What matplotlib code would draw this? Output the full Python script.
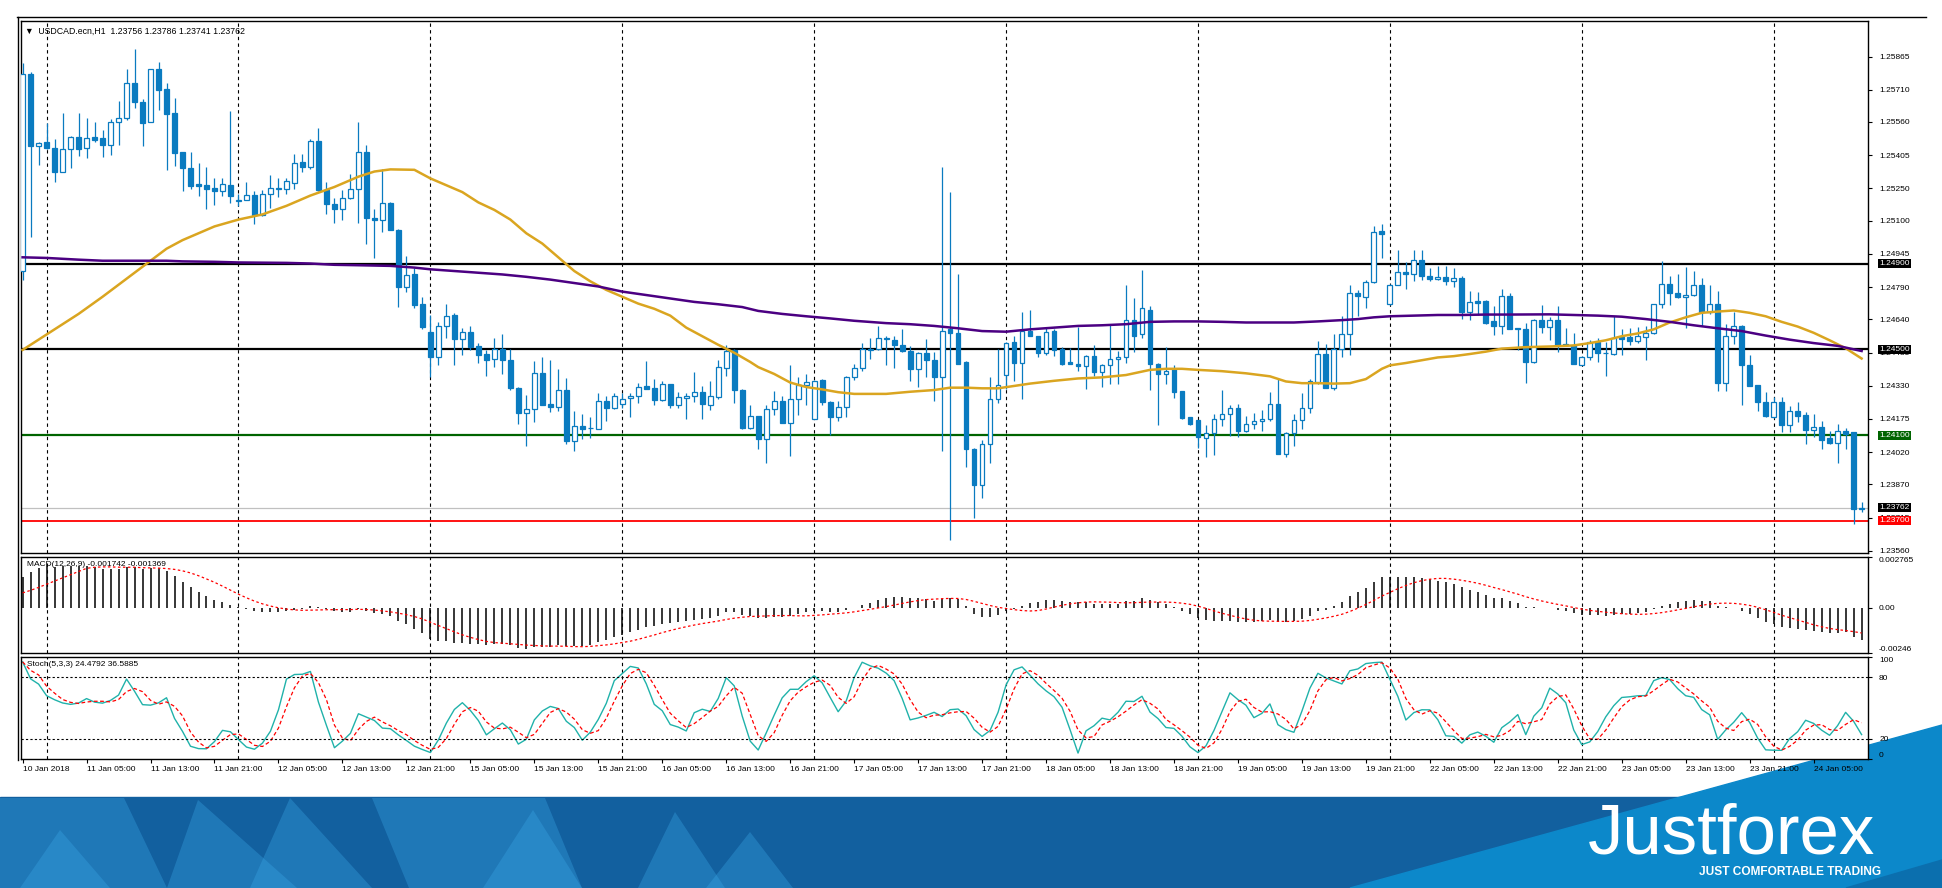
import numpy as np
import matplotlib
matplotlib.use("Agg")
import matplotlib.pyplot as plt
from matplotlib.patches import Polygon, Rectangle

plt.rcParams['font.family'] = ['Liberation Sans', 'DejaVu Sans']

# -----------------------------
# 1) Candle data, USDCAD H1 (10 Jan 21:00 .. 24 Jan 11:00)
# -----------------------------
opens = [
    1.24865, 1.25785, 1.25446, 1.25465, 1.25441, 1.25329, 1.25433, 1.25492, 1.25438, 1.25489,
    1.25484, 1.25454, 1.25558, 1.25577, 1.25743, 1.25652, 1.25558, 1.25809, 1.25713, 1.25601,
    1.25420, 1.25345, 1.25270, 1.25265, 1.25252, 1.25238, 1.25265, 1.25193, 1.25195, 1.25220,
    1.25124, 1.25223, 1.25249, 1.25246, 1.25276, 1.25374, 1.25348, 1.25470, 1.25244, 1.25177,
    1.25156, 1.25204, 1.25246, 1.25420, 1.25113, 1.25105, 1.25182, 1.25057, 1.24790, 1.24849,
    1.24711, 1.24582, 1.24465, 1.24609, 1.24660, 1.24548, 1.24582, 1.24516, 1.24476, 1.24457,
    1.24500, 1.24449, 1.24321, 1.24201, 1.24220, 1.24388, 1.24244, 1.24233, 1.24308, 1.24073,
    1.24140, 1.24131, 1.24129, 1.24257, 1.24225, 1.24244, 1.24273, 1.24284, 1.24329, 1.24321,
    1.24265, 1.24337, 1.24238, 1.24273, 1.24284, 1.24300, 1.24241, 1.24278, 1.24414, 1.24497,
    1.24308, 1.24132, 1.24188, 1.24081, 1.24220, 1.24257, 1.24156, 1.24270, 1.24334, 1.24174,
    1.24358, 1.24252, 1.24182, 1.24233, 1.24372, 1.24414, 1.24497, 1.24500, 1.24553, 1.24545,
    1.24521, 1.24494, 1.24406, 1.24481, 1.24452, 1.24372, 1.24596, 1.24577, 1.24439, 1.24033,
    1.23865, 1.24057, 1.24270, 1.24382, 1.24532, 1.24436, 1.24585, 1.24561, 1.24484, 1.24585,
    1.24500, 1.24439, 1.24433, 1.24422, 1.24470, 1.24393, 1.24428, 1.24457, 1.24462, 1.24636,
    1.24569, 1.24681, 1.24433, 1.24385, 1.24406, 1.24305, 1.24185, 1.24169, 1.24084, 1.24108,
    1.24177, 1.24196, 1.24225, 1.24121, 1.24150, 1.24164, 1.24174, 1.24244, 1.24014, 1.24108,
    1.24169, 1.24228, 1.24348, 1.24476, 1.24318, 1.24502, 1.24572, 1.24764, 1.24745, 1.24814,
    1.25052, 1.24710, 1.24801, 1.24860, 1.24849, 1.24916, 1.24844, 1.24830, 1.24838, 1.24817,
    1.24833, 1.24673, 1.24726, 1.24726, 1.24630, 1.24609, 1.24750, 1.24598, 1.24596, 1.24441,
    1.24638, 1.24604, 1.24638, 1.24526, 1.24521, 1.24428, 1.24462, 1.24532, 1.24481, 1.24478,
    1.24556, 1.24556, 1.24537, 1.24558, 1.24577, 1.24710, 1.24804, 1.24764, 1.24743, 1.24753,
    1.24801, 1.24673, 1.24711, 1.24345, 1.24561, 1.24609, 1.24428, 1.24332, 1.24254, 1.24185,
    1.24254, 1.24148, 1.24212, 1.24193, 1.24124, 1.24137, 1.24084, 1.24065, 1.24118, 1.24113,
    1.23756]
highs = [
    1.25833, 1.25793, 1.25465, 1.25553, 1.25481, 1.25601, 1.25497, 1.25601, 1.25580, 1.25558,
    1.25521, 1.25572, 1.25660, 1.25809, 1.25902, 1.25668, 1.25809, 1.25841, 1.25740, 1.25673,
    1.25420, 1.25420, 1.25369, 1.25348, 1.25297, 1.25300, 1.25609, 1.25222, 1.25281, 1.25238,
    1.25243, 1.25313, 1.25297, 1.25297, 1.25409, 1.25412, 1.25481, 1.25534, 1.25281, 1.25204,
    1.25241, 1.25316, 1.25558, 1.25454, 1.25156, 1.25342, 1.25188, 1.25062, 1.24937, 1.24881,
    1.24745, 1.24660, 1.24628, 1.24713, 1.24670, 1.24601, 1.24609, 1.24529, 1.24497, 1.24553,
    1.24569, 1.24500, 1.24324, 1.24289, 1.24446, 1.24465, 1.24452, 1.24406, 1.24364, 1.24212,
    1.24196, 1.24182, 1.24297, 1.24281, 1.24297, 1.24294, 1.24297, 1.24342, 1.24444, 1.24361,
    1.24353, 1.24340, 1.24300, 1.24297, 1.24393, 1.24329, 1.24353, 1.24452, 1.24521, 1.24500,
    1.24313, 1.24238, 1.24188, 1.24241, 1.24305, 1.24281, 1.24425, 1.24369, 1.24385, 1.24356,
    1.24361, 1.24257, 1.24257, 1.24377, 1.24433, 1.24529, 1.24553, 1.24609, 1.24561, 1.24564,
    1.24593, 1.24516, 1.24489, 1.24548, 1.24489, 1.25348, 1.25233, 1.24852, 1.24444, 1.24041,
    1.24078, 1.24372, 1.24500, 1.24532, 1.24564, 1.24676, 1.24681, 1.24564, 1.24601, 1.24593,
    1.24513, 1.24508, 1.24606, 1.24473, 1.24518, 1.24433, 1.24612, 1.24494, 1.24798, 1.24740,
    1.24870, 1.24702, 1.24436, 1.24510, 1.24428, 1.24305, 1.24185, 1.24172, 1.24148, 1.24196,
    1.24310, 1.24241, 1.24244, 1.24188, 1.24204, 1.24217, 1.24300, 1.24361, 1.24113, 1.24196,
    1.24297, 1.24361, 1.24537, 1.24524, 1.24569, 1.24654, 1.24798, 1.24777, 1.24825, 1.25076,
    1.25084, 1.24804, 1.24964, 1.24908, 1.24964, 1.24964, 1.24881, 1.24889, 1.24889, 1.24881,
    1.24841, 1.24772, 1.24769, 1.24729, 1.24702, 1.24782, 1.24761, 1.24601, 1.24622, 1.24641,
    1.24708, 1.24649, 1.24702, 1.24601, 1.24574, 1.24468, 1.24545, 1.24553, 1.24532, 1.24654,
    1.24596, 1.24601, 1.24606, 1.24609, 1.24713, 1.24913, 1.24844, 1.24849, 1.24886, 1.24865,
    1.24833, 1.24798, 1.24772, 1.24620, 1.24673, 1.24612, 1.24473, 1.24332, 1.24300, 1.24276,
    1.24276, 1.24236, 1.24252, 1.24209, 1.24196, 1.24164, 1.24118, 1.24150, 1.24132, 1.24116,
    1.23786]
lows = [
    1.24825, 1.25022, 1.25361, 1.25433, 1.25278, 1.25329, 1.25345, 1.25401, 1.25393, 1.25465,
    1.25398, 1.25404, 1.25454, 1.25569, 1.25625, 1.25449, 1.25558, 1.25617, 1.25334, 1.25356,
    1.25238, 1.25249, 1.25217, 1.25153, 1.25175, 1.25217, 1.25180, 1.25169, 1.25195, 1.25084,
    1.25121, 1.25161, 1.25209, 1.25225, 1.25249, 1.25329, 1.25342, 1.25236, 1.25129, 1.25089,
    1.25105, 1.25201, 1.25089, 1.24990, 1.24926, 1.25049, 1.25054, 1.24697, 1.24766, 1.24692,
    1.24593, 1.24369, 1.24425, 1.24553, 1.24428, 1.24473, 1.24497, 1.24436, 1.24377, 1.24417,
    1.24385, 1.24308, 1.24153, 1.24049, 1.24161, 1.24241, 1.24209, 1.24212, 1.24057, 1.24025,
    1.24081, 1.24084, 1.24129, 1.24166, 1.24220, 1.24225, 1.24182, 1.24249, 1.24316, 1.24238,
    1.24257, 1.24225, 1.24225, 1.24177, 1.24254, 1.24174, 1.24217, 1.24268, 1.24377, 1.24249,
    1.24129, 1.24129, 1.24033, 1.23969, 1.24193, 1.24156, 1.24001, 1.24193, 1.24241, 1.24174,
    1.24241, 1.24102, 1.24164, 1.24185, 1.24356, 1.24401, 1.24457, 1.24497, 1.24428, 1.24414,
    1.24489, 1.24350, 1.24324, 1.24369, 1.24257, 1.24025, 1.23609, 1.24430, 1.23950, 1.23713,
    1.23806, 1.23969, 1.24249, 1.24313, 1.24350, 1.24270, 1.24561, 1.24462, 1.24473, 1.24468,
    1.24425, 1.24430, 1.24401, 1.24313, 1.24377, 1.24324, 1.24337, 1.24337, 1.24436, 1.24489,
    1.24553, 1.24308, 1.24145, 1.24337, 1.24273, 1.24177, 1.24148, 1.24041, 1.23998, 1.24009,
    1.24140, 1.24097, 1.24089, 1.24113, 1.24129, 1.24121, 1.24164, 1.24014, 1.23998, 1.24049,
    1.24129, 1.24201, 1.24337, 1.24321, 1.24310, 1.24465, 1.24473, 1.24654, 1.24692, 1.24809,
    1.24926, 1.24705, 1.24798, 1.24782, 1.24820, 1.24825, 1.24817, 1.24822, 1.24801, 1.24790,
    1.24641, 1.24636, 1.24660, 1.24617, 1.24566, 1.24569, 1.24596, 1.24497, 1.24345, 1.24436,
    1.24577, 1.24545, 1.24489, 1.24516, 1.24433, 1.24428, 1.24452, 1.24441, 1.24377, 1.24473,
    1.24473, 1.24521, 1.24529, 1.24449, 1.24569, 1.24692, 1.24705, 1.24737, 1.24601, 1.24750,
    1.24609, 1.24665, 1.24305, 1.24305, 1.24526, 1.24241, 1.24329, 1.24212, 1.24185, 1.24180,
    1.24116, 1.24116, 1.24161, 1.24060, 1.24092, 1.24033, 1.24060, 1.23972, 1.24033, 1.23684,
    1.23741]
closes = [
    1.25785, 1.25449, 1.25462, 1.25441, 1.25329, 1.25433, 1.25489, 1.25433, 1.25486, 1.25478,
    1.25454, 1.25558, 1.25577, 1.25743, 1.25654, 1.25556, 1.25809, 1.25710, 1.25598, 1.25417,
    1.25345, 1.25262, 1.25262, 1.25249, 1.25236, 1.25270, 1.25217, 1.25196, 1.25220, 1.25126,
    1.25223, 1.25252, 1.25251, 1.25287, 1.25369, 1.25348, 1.25470, 1.25241, 1.25177, 1.25153,
    1.25204, 1.25246, 1.25420, 1.25110, 1.25105, 1.25182, 1.25054, 1.24790, 1.24846, 1.24708,
    1.24604, 1.24465, 1.24609, 1.24657, 1.24548, 1.24582, 1.24513, 1.24473, 1.24449, 1.24500,
    1.24449, 1.24321, 1.24201, 1.24220, 1.24388, 1.24241, 1.24233, 1.24308, 1.24073, 1.24140,
    1.24129, 1.24134, 1.24257, 1.24225, 1.24284, 1.24268, 1.24284, 1.24324, 1.24316, 1.24265,
    1.24337, 1.24238, 1.24276, 1.24284, 1.24300, 1.24246, 1.24284, 1.24417, 1.24494, 1.24308,
    1.24132, 1.24190, 1.24081, 1.24220, 1.24257, 1.24156, 1.24270, 1.24334, 1.24348, 1.24353,
    1.24252, 1.24182, 1.24230, 1.24372, 1.24414, 1.24500, 1.24502, 1.24553, 1.24548, 1.24521,
    1.24492, 1.24406, 1.24481, 1.24452, 1.24372, 1.24585, 1.24577, 1.24433, 1.24033, 1.23865,
    1.24057, 1.24270, 1.24334, 1.24529, 1.24436, 1.24585, 1.24561, 1.24484, 1.24582, 1.24497,
    1.24433, 1.24433, 1.24422, 1.24470, 1.24393, 1.24428, 1.24457, 1.24462, 1.24638, 1.24564,
    1.24694, 1.24433, 1.24385, 1.24401, 1.24302, 1.24180, 1.24150, 1.24089, 1.24108, 1.24177,
    1.24196, 1.24225, 1.24118, 1.24150, 1.24166, 1.24174, 1.24244, 1.24014, 1.24108, 1.24169,
    1.24228, 1.24353, 1.24476, 1.24321, 1.24502, 1.24572, 1.24761, 1.24750, 1.24814, 1.25046,
    1.25038, 1.24801, 1.24860, 1.24849, 1.24916, 1.24841, 1.24830, 1.24838, 1.24817, 1.24833,
    1.24673, 1.24721, 1.24718, 1.24622, 1.24609, 1.24750, 1.24596, 1.24595, 1.24441, 1.24638,
    1.24604, 1.24638, 1.24521, 1.24518, 1.24433, 1.24462, 1.24532, 1.24484, 1.24483, 1.24553,
    1.24548, 1.24537, 1.24561, 1.24577, 1.24710, 1.24804, 1.24761, 1.24742, 1.24753, 1.24801,
    1.24673, 1.24711, 1.24345, 1.24561, 1.24609, 1.24428, 1.24329, 1.24254, 1.24188, 1.24254,
    1.24148, 1.24212, 1.24190, 1.24124, 1.24137, 1.24076, 1.24065, 1.24118, 1.24105, 1.23753,
    1.23762]

# moving averages (bar index, price)
ma_fast_idx = [0, 3, 7, 10, 12, 14, 16, 18, 20, 24, 27, 30, 33, 36, 39, 42, 44, 46, 49, 51,
               53, 55, 57, 59, 61, 63, 65, 67, 69, 71, 73, 75, 77, 79, 81, 83, 85, 87, 89, 91,
               92, 94, 96, 98, 100, 102, 104, 108, 111, 114, 116, 118, 120, 122, 124, 126, 129,
               132, 135, 138, 141, 143, 145, 147, 150, 153, 156, 158, 160, 162, 164, 166, 168,
               169, 170, 171, 173, 175, 177, 179, 181, 183, 185, 188, 191, 194, 196, 198, 200,
               202, 204, 206, 208, 210, 212, 214, 216, 218, 220, 222, 224, 226, 228, 230]
ma_fast_val = [1.24497, 1.24569, 1.24665, 1.24745, 1.24801, 1.24857, 1.24913, 1.24969, 1.25009,
               1.25073, 1.25105, 1.25129, 1.25169, 1.25217, 1.25257, 1.25305, 1.25329, 1.25339,
               1.25337, 1.25297, 1.25265, 1.25233, 1.25185, 1.25150, 1.25105, 1.25041, 1.24993,
               1.24929, 1.24865, 1.24817, 1.24777, 1.24745, 1.24713, 1.24689, 1.24657, 1.24601,
               1.24561, 1.24521, 1.24484, 1.24441, 1.24417, 1.24385, 1.24345, 1.24324, 1.24313,
               1.24300, 1.24292, 1.24292, 1.24302, 1.24310, 1.24321, 1.24321, 1.24318, 1.24318,
               1.24329, 1.24340, 1.24353, 1.24364, 1.24369, 1.24380, 1.24404, 1.24409, 1.24409,
               1.24404, 1.24398, 1.24388, 1.24374, 1.24350, 1.24342, 1.24342, 1.24340, 1.24342,
               1.24361, 1.24385, 1.24409, 1.24425, 1.24436, 1.24449, 1.24462, 1.24468, 1.24478,
               1.24489, 1.24503, 1.24510, 1.24513, 1.24518, 1.24529, 1.24542, 1.24561, 1.24574,
               1.24593, 1.24625, 1.24649, 1.24670, 1.24676, 1.24681, 1.24670, 1.24654, 1.24628,
               1.24606, 1.24577, 1.24542, 1.24505, 1.24457]
ma_slow_idx = [0, 3, 7, 10, 14, 18, 20, 24, 27, 33, 36, 39, 42, 46, 49, 51, 54, 57, 60, 63,
               66, 69, 72, 75, 78, 81, 84, 87, 90, 92, 95, 98, 101, 104, 108, 111, 114, 117,
               120, 123, 126, 129, 132, 135, 138, 141, 144, 147, 150, 153, 156, 159, 162, 165,
               167, 169, 171, 174, 177, 180, 183, 186, 191, 194, 197, 200, 203, 206, 209, 212,
               215, 218, 221, 224, 227, 230]
ma_slow_val = [1.24929, 1.24926, 1.24918, 1.24913, 1.24913, 1.24913, 1.24910, 1.24908, 1.24905,
               1.24903, 1.24900, 1.24894, 1.24892, 1.24889, 1.24881, 1.24873, 1.24865, 1.24857,
               1.24849, 1.24838, 1.24825, 1.24809, 1.24793, 1.24769, 1.24753, 1.24737, 1.24721,
               1.24710, 1.24697, 1.24679, 1.24665, 1.24654, 1.24644, 1.24633, 1.24622, 1.24617,
               1.24609, 1.24598, 1.24585, 1.24582, 1.24593, 1.24601, 1.24609, 1.24612, 1.24617,
               1.24628, 1.24630, 1.24630, 1.24628, 1.24625, 1.24625, 1.24625, 1.24630, 1.24636,
               1.24641, 1.24649, 1.24654, 1.24657, 1.24660, 1.24660, 1.24662, 1.24662, 1.24663,
               1.24660, 1.24657, 1.24652, 1.24641, 1.24628, 1.24612, 1.24598, 1.24585, 1.24564,
               1.24545, 1.24529, 1.24516, 1.24492]

# MACD starting state read from the left edge of the indicator window
macd_fast_seed = 1.2482
macd_slow_seed = 1.2472
macd_signal_seed = 0.0007

level_lines = [1.24900, 1.24500, 1.24100, 1.23700]
price_ticks = [1.25865, 1.25710, 1.25560, 1.25405, 1.25250, 1.25100, 1.24945, 1.24790,
               1.24640, 1.24485, 1.24330, 1.24175, 1.24020, 1.23870, 1.23715, 1.23560]
day_starts = [3, 27, 51, 75, 99, 123, 147, 171, 195, 219]
time_idx = list(range(0, 225, 8))
time_labels = ['10 Jan 2018', '11 Jan 05:00', '11 Jan 13:00', '11 Jan 21:00', '12 Jan 05:00',
               '12 Jan 13:00', '12 Jan 21:00', '15 Jan 05:00', '15 Jan 13:00', '15 Jan 21:00',
               '16 Jan 05:00', '16 Jan 13:00', '16 Jan 21:00', '17 Jan 05:00', '17 Jan 13:00',
               '17 Jan 21:00', '18 Jan 05:00', '18 Jan 13:00', '18 Jan 21:00', '19 Jan 05:00',
               '19 Jan 13:00', '19 Jan 21:00', '22 Jan 05:00', '22 Jan 13:00', '22 Jan 21:00',
               '23 Jan 05:00', '23 Jan 13:00', '23 Jan 21:00', '24 Jan 05:00']
header_text = '\u25bc  USDCAD.ecn,H1  1.23756 1.23786 1.23741 1.23762'
macd_text = 'MACD(12,26,9) -0.001742 -0.001369'
stoch_text = 'Stoch(5,3,3) 24.4792 36.5885'

# -----------------------------
# 2) Indicators
# -----------------------------
o, h, l, c = map(np.array, (opens, highs, lows, closes))
n = len(c)
x = np.arange(n)

ema_f, ema_s = macd_fast_seed, macd_slow_seed
macd_main = np.zeros(n)
for i in range(n):
    ema_f += 2 / 13 * (c[i] - ema_f)
    ema_s += 2 / 27 * (c[i] - ema_s)
    macd_main[i] = ema_f - ema_s
padded = np.concatenate([np.full(8, macd_signal_seed), macd_main])
macd_sig = np.array([padded[i:i + 9].mean() for i in range(n)])

num = np.zeros(n)
den = np.zeros(n)
for i in range(n):
    j = max(0, i - 4)
    num[i] = c[i] - l[j:i + 1].min()
    den[i] = h[j:i + 1].max() - l[j:i + 1].min()
stoch_k = np.array([num[max(0, i - 2):i + 1].sum() / den[max(0, i - 2):i + 1].sum() * 100
                    for i in range(n)])
stoch_d = np.array([stoch_k[max(0, i - 2):i + 1].mean() for i in range(n)])

# -----------------------------
# 3) Figure layout (pixel based)
# -----------------------------
W, H = 1942, 888
fig = plt.figure(figsize=(W / 100, H / 100), dpi=100)


def rect(x0, y0, x1, y1):
    return [x0 / W, 1 - y1 / H, (x1 - x0) / W, (y1 - y0) / H]


bg = fig.add_axes([0, 0, 1, 1], zorder=0)
bg.set_xlim(0, W)
bg.set_ylim(H, 0)
bg.axis('off')

ax = fig.add_axes(rect(21, 21, 1868, 553), zorder=2)
axm = fig.add_axes(rect(21, 557, 1868, 653), zorder=2, sharex=ax)
axs = fig.add_axes(rect(21, 657, 1868, 759), zorder=2, sharex=ax)

blue = '#0A7BC0'
fs = 6

# --- main chart ---
ax.vlines(x, l, h, color=blue, lw=0.9, zorder=3)
lo_body = np.minimum(o, c)
hgt = np.maximum(np.abs(c - o), 0.00002)
up = c > o
ax.bar(x[up], hgt[up], bottom=lo_body[up], width=0.6, facecolor='white',
       edgecolor=blue, lw=0.9, zorder=4)
ax.bar(x[~up], hgt[~up], bottom=lo_body[~up], width=0.6, facecolor=blue,
       edgecolor=blue, lw=0.9, zorder=4)

ax.plot(ma_fast_idx, ma_fast_val, color='#DAA520', lw=1.8, zorder=5)
ax.plot(ma_slow_idx, ma_slow_val, color='#4B0082', lw=1.8, zorder=5)

ax.axhline(level_lines[0], color='black', lw=1.6, zorder=2.5)
ax.axhline(level_lines[1], color='black', lw=1.6, zorder=2.5)
ax.axhline(level_lines[2], color='#006400', lw=1.6, zorder=2.5)
ax.axhline(level_lines[3], color='red', lw=1.3, zorder=2.5)
ax.axhline(c[-1], color='#C0C0C0', lw=0.9, zorder=2.4)

ax.set_xlim(-0.2, 230.8)
ax.set_ylim(1.23550, 1.26031)
ax.yaxis.tick_right()
ax.set_yticks(price_ticks)
ax.set_yticklabels([f'{v:.5f}' for v in price_ticks], fontsize=fs)
ax.tick_params(axis='y', length=3, width=0.8, pad=5)
ax.tick_params(axis='x', bottom=False, labelbottom=False)

boxes = [(1.24900, 'black'), (1.24500, 'black'), (1.24100, '#006400'),
         (c[-1], 'black'), (1.23700, 'red')]
for val, fc in boxes:
    ax.text(1.0062, val, f'{val:.5f}', transform=ax.get_yaxis_transform(), fontsize=fs,
            color='white', ha='left', va='center', clip_on=False, zorder=10,
            bbox=dict(boxstyle='square,pad=0.12', fc=fc, ec='none'))

ax.text(0.002, 0.99, header_text, transform=ax.transAxes, ha='left', va='top',
        fontsize=6.3, family=['Liberation Sans', 'DejaVu Sans'])

# --- MACD ---
axm.vlines(x, 0, macd_main, color='black', lw=1.1)
axm.plot(x, macd_sig, color='red', lw=0.9, ls=(0, (2, 2)))
axm.set_ylim(-0.00246, 0.002765)
axm.yaxis.tick_right()
axm.set_yticks([0.002765, 0.0, -0.00246])
axm.set_yticklabels(['0.002765', '0.00', '-0.00246'], fontsize=fs)
axm.tick_params(axis='y', length=3, width=0.8, pad=5)
axm.tick_params(axis='x', bottom=False, labelbottom=False)
tl = axm.get_yticklabels()
tl[0].set_va('top')
tl[2].set_va('bottom')
axm.text(0.003, 0.96, macd_text, transform=axm.transAxes, ha='left', va='top', fontsize=fs)

# --- Stochastic ---
axs.plot(x, stoch_k, color='#20B2AA', lw=1.0)
axs.plot(x, stoch_d, color='red', lw=0.9, ls=(0, (3, 2)))
axs.axhline(80, color='black', lw=0.8, ls=(0, (2, 2)))
axs.axhline(20, color='black', lw=0.8, ls=(0, (2, 2)))
axs.set_ylim(0, 100)
axs.yaxis.tick_right()
axs.set_yticks([100, 80, 20, 0])
axs.set_yticklabels(['100', '80', '20', '0'], fontsize=fs)
axs.tick_params(axis='y', length=3, width=0.8, pad=5)
tl = axs.get_yticklabels()
tl[0].set_va('top')
tl[3].set_va('bottom')
axs.text(0.003, 0.96, stoch_text, transform=axs.transAxes, ha='left', va='top', fontsize=fs)
axs.set_xticks(time_idx)
axs.set_xticklabels(time_labels, fontsize=fs, ha='left')
axs.tick_params(axis='x', length=3, width=0.8, pad=2)

for a in (ax, axm, axs):
    for k in day_starts:
        a.axvline(k, color='black', lw=0.8, ls=(0, (3, 3)), zorder=1)
    for s in a.spines.values():
        s.set_linewidth(1.0)

# outer window border
bg.plot([17, 1926], [17.5, 17.5], color='black', lw=1.0)
bg.plot([18, 18], [17, 760], color='black', lw=1.0)

# -----------------------------
# 4) Banner
# -----------------------------
bg.add_patch(Rectangle((0, 797), W, H - 797, color='#12609F', zorder=1))
bg.add_patch(Polygon([(1350, 888), (1942, 725), (1942, 888)], closed=True,
                     color='#0C88CA', zorder=2))
bg.add_patch(Polygon([(1846, 888), (1942, 860), (1942, 888)], closed=True,
                     color='#0B6FAE', zorder=2))
shapes = [
    [(0, 798), (124, 798), (167, 888), (0, 888)],
    [(198, 800), (167, 888), (297, 888)],
    [(290, 798), (250, 888), (372, 888)],
    [(372, 798), (545, 798), (582, 888), (409, 888)],
    [(533, 810), (483, 888), (582, 888)],
    [(675, 812), (638, 888), (725, 888)],
    [(750, 832), (706, 888), (793, 888)],
    [(60, 830), (20, 888), (110, 888)],
]
for pts in shapes:
    bg.add_patch(Polygon(pts, closed=True, color='#3AA6E6', alpha=0.35, lw=0, zorder=1.5))

bg.text(1588, 853, 'Justforex', color='white', fontsize=51, ha='left', va='baseline',
        family=['Liberation Sans', 'DejaVu Sans'], zorder=3)
bg.text(1881, 875, 'JUST COMFORTABLE TRADING', color='white', fontsize=8.6,
        fontweight='bold', ha='right', va='baseline', zorder=3)

fig.savefig('out.png', dpi=100, facecolor='white')
